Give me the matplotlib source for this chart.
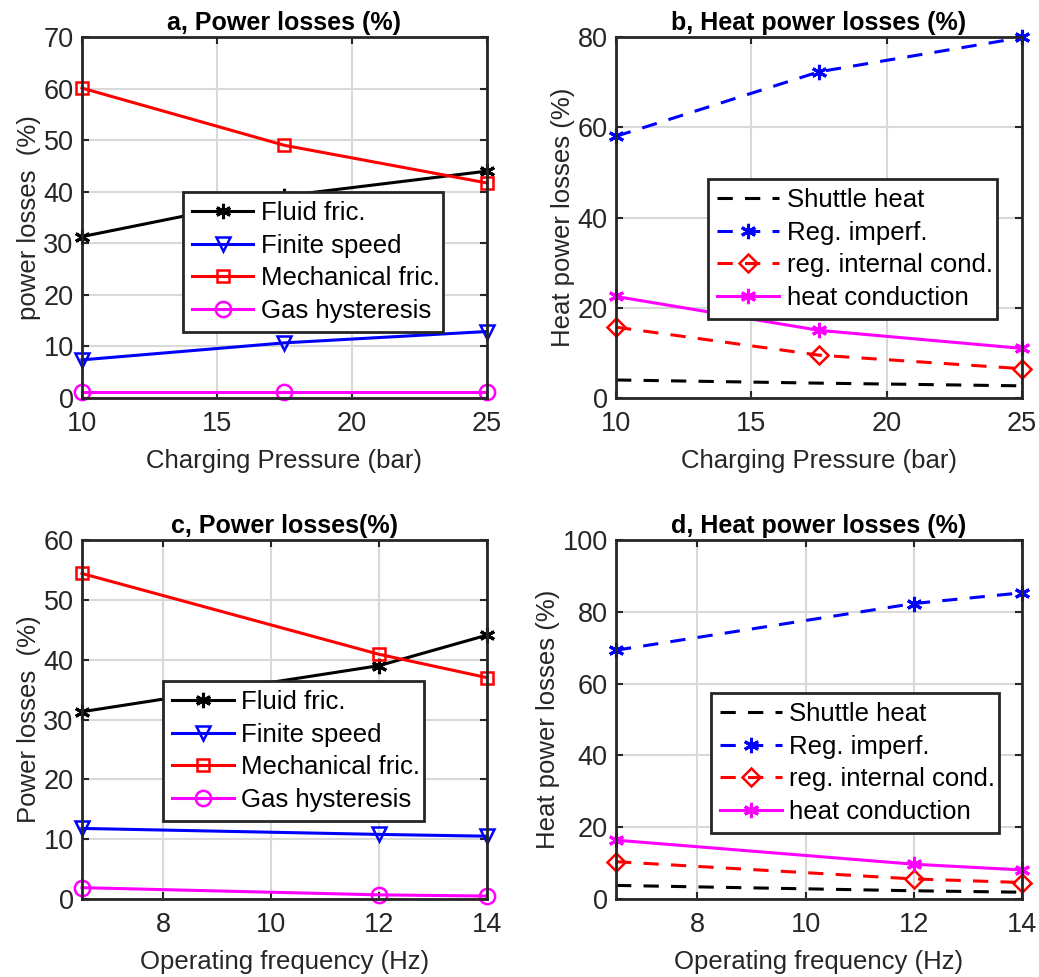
import numpy as np
import matplotlib.pyplot as plt

plt.rcParams["font.family"] = ["Liberation Sans", "DejaVu Sans"]

# Charging pressure sweep (panels a, b)
pressure = [10, 17.5, 25]
a_fluid = [31.3, 39.2, 44.0]
a_finite = [7.4, 10.7, 12.9]
a_mech = [60.1, 49.0, 41.7]
a_gas = [1.2, 1.2, 1.2]

b_shuttle = [4.0, 3.3, 2.7]
b_regimp = [58.0, 72.3, 79.9]
b_regcond = [15.7, 9.5, 6.5]
b_heatcond = [22.5, 15.0, 11.0]

# Operating frequency sweep (panels c, d)
freq = [6.5, 12, 14]
c_fluid = [31.3, 39.0, 44.1]
c_finite = [11.8, 10.8, 10.5]
c_mech = [54.4, 40.9, 37.0]
c_gas = [1.9, 0.7, 0.5]

d_shuttle = [3.8, 2.3, 1.9]
d_regimp = [69.3, 82.3, 85.3]
d_regcond = [10.4, 5.6, 4.6]
d_heatcond = [16.4, 9.7, 8.1]

power_labels = ["Fluid fric.", "Finite speed", "Mechanical fric.", "Gas hysteresis"]
heat_labels = ["Shuttle heat", "Reg. imperf.", "reg. internal cond.", "heat conduction"]

ASTER = (6, 2, 0)
GRAY = "#262626"
LW = 2.2


def style_axes(ax, xlim, ylim, xticks, yticks, xlabel, ylabel, title):
    ax.set_xlim(xlim)
    ax.set_ylim(ylim)
    ax.set_xticks(xticks)
    ax.set_yticks(yticks)
    ax.grid(True, color="#d9d9d9", linewidth=1.5)
    ax.set_axisbelow(True)
    ax.tick_params(axis="both", direction="in", labelsize=19.5, length=5, width=1.5,
                   colors=GRAY, top=True, right=True)
    ax.tick_params(axis="x", pad=9)
    ax.tick_params(axis="y", pad=6)
    for sp in ax.spines.values():
        sp.set_linewidth(2)
        sp.set_color(GRAY)
    ax.set_xlabel(xlabel, fontsize=18.5, color=GRAY, labelpad=9)
    ax.set_ylabel(ylabel, fontsize=18.5, color=GRAY, labelpad=2)
    ax.set_title(title, fontsize=18, fontweight="bold", pad=5)


def power_panel(ax, x, fluid, finite, mech, gas):
    ax.plot(x, fluid, color="k", lw=LW, marker=ASTER, ms=11, mew=2.2, label=power_labels[0])
    ax.plot(x, finite, color="b", lw=LW, marker="v", ms=10, mew=1.8, mfc="none", label=power_labels[1])
    ax.plot(x, mech, color="r", lw=LW, marker="s", ms=9, mew=1.8, mfc="none", label=power_labels[2])
    ax.plot(x, gas, color="magenta", lw=LW, marker="o", ms=11, mew=1.8, mfc="none", label=power_labels[3])


def heat_panel(ax, x, shuttle, regimp, regcond, heatcond):
    ax.plot(x, shuttle, color="k", lw=LW, ls=(0, (5, 4)), label=heat_labels[0])
    ax.plot(x, regimp, color="b", lw=LW, ls=(0, (5, 4)), marker=ASTER, ms=11, mew=2.2, label=heat_labels[1])
    ax.plot(x, regcond, color="r", lw=LW, ls=(0, (5, 4)), marker="D", ms=9, mew=1.8, mfc="none", label=heat_labels[2])
    ax.plot(x, heatcond, color="magenta", lw=LW, marker=ASTER, ms=11, mew=2.2, label=heat_labels[3])


def add_legend(ax, bbox):
    leg = ax.legend(loc="lower left", bbox_to_anchor=bbox, mode="expand", fontsize=18.5,
                    frameon=True, fancybox=False, handlelength=2.4, handletextpad=0.3,
                    borderpad=0.35, labelspacing=0.34, borderaxespad=0)
    leg.get_frame().set_edgecolor(GRAY)
    leg.get_frame().set_linewidth(2)
    leg.get_frame().set_alpha(1)


fig = plt.figure(figsize=(10.39, 9.77), dpi=100)
ax_a = fig.add_axes([0.0789, 0.5926, 0.3898, 0.3695])
ax_b = fig.add_axes([0.5929, 0.5926, 0.3908, 0.3695])
ax_c = fig.add_axes([0.0789, 0.0798, 0.3898, 0.3675])
ax_d = fig.add_axes([0.5929, 0.0798, 0.3908, 0.3675])

power_panel(ax_a, pressure, a_fluid, a_finite, a_mech, a_gas)
style_axes(ax_a, (10, 25), (0, 70), [10, 15, 20, 25], np.arange(0, 71, 10),
           "Charging Pressure (bar)", "power losses  (%)", "a, Power losses (%)")
add_legend(ax_a, (0.249, 0.183, 0.642, 0.377))

heat_panel(ax_b, pressure, b_shuttle, b_regimp, b_regcond, b_heatcond)
style_axes(ax_b, (10, 25), (0, 80), [10, 15, 20, 25], np.arange(0, 81, 20),
           "Charging Pressure (bar)", "Heat power losses (%)", "b, Heat power losses (%)")
add_legend(ax_b, (0.227, 0.219, 0.711, 0.377))

power_panel(ax_c, freq, c_fluid, c_finite, c_mech, c_gas)
style_axes(ax_c, (6.5, 14), (0, 60), [8, 10, 12, 14], np.arange(0, 61, 10),
           "Operating frequency (Hz)", "Power losses  (%)", "c, Power losses(%)")
add_legend(ax_c, (0.200, 0.217, 0.644, 0.382))

heat_panel(ax_d, freq, d_shuttle, d_regimp, d_regcond, d_heatcond)
style_axes(ax_d, (6.5, 14), (0, 100), [8, 10, 12, 14], np.arange(0, 101, 20),
           "Operating frequency (Hz)", "Heat power losses (%)", "d, Heat power losses (%)")
add_legend(ax_d, (0.234, 0.184, 0.709, 0.379))

for ax in (ax_a, ax_b, ax_c, ax_d):
    for line in ax.get_lines():
        line.set_clip_on(False)

fig.savefig("out.png", dpi=100)
